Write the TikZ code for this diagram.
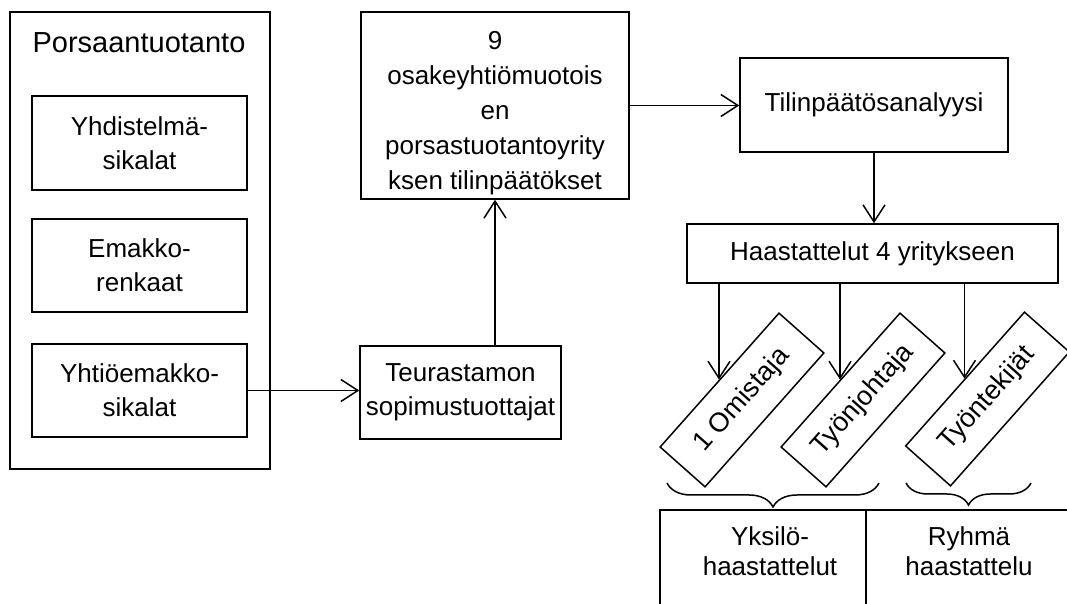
\documentclass[tikz,border=0pt]{standalone}
\usepackage{fontspec}
\setmainfont{Liberation Sans}
\usetikzlibrary{arrows.meta,decorations.pathreplacing}
\begin{document}
\begin{tikzpicture}[x=1pt,y=1pt,
  box/.style={draw, line width=1.5pt, inner sep=0pt, align=center,
    font=\fontsize{26}{34}\selectfont},
  arr/.style={-{Straight Barb[length=17pt,width=22pt]}, line width=1.5pt},
  br/.style={decorate, line width=1.5pt, decoration={brace, mirror, amplitude=#1}},
  lbl/.style={font=\fontsize{26}{30}\selectfont, align=center, anchor=north}]
\useasboundingbox (0,0) rectangle (1067,604);
\clip (0,0) rectangle (1067,604);
% left group
\node[box, minimum width=260pt, minimum height=457pt] (outer) at (140,363.5) {};
\node[font=\fontsize{29}{34}\selectfont, inner sep=0pt] (title) at (139,561) {Porsaantuotanto};
\node[box, minimum width=215pt, minimum height=94pt] (b1) at (139.5,461) {Yhdistelmä-\\sikalat};
\node[box, minimum width=215pt, minimum height=93pt] (b2) at (139.5,338.5) {Emakko-\\renkaat};
\node[box, minimum width=215pt, minimum height=93pt] (b3) at (139.5,213.5) {Yhtiöemakko-\\sikalat};
% middle
\node[box, minimum width=201pt, minimum height=93pt] (teur) at (460.5,211.5) {Teurastamon\\sopimustuottajat};
\node[box, minimum width=268pt, minimum height=187pt,
  label={[font=\fontsize{26}{35}\selectfont, align=center, yshift=-8pt]center:{9\\osakeyhtiömuotois\\en\\porsastuotantoyrity\\ksen tilinpäätökset}}] (box9) at (495,498.5) {};
% right
\node[box, minimum width=268pt, minimum height=94pt] (tili) at (874,499) {Tilinpäätösanalyysi};
\node[box, minimum width=371pt, minimum height=59pt] (haas) at (872.5,350.5) {Haastattelut 4 yritykseen};
\node[box, rotate=48.4, minimum width=179pt, minimum height=60pt, font=\fontsize{27}{30}\selectfont] (o1) at (742,204) {1 Omistaja};
\node[box, rotate=48.4, minimum width=179pt, minimum height=60pt, font=\fontsize{27}{30}\selectfont] (o2) at (863,204) {Työnjohtaja};
\node[box, rotate=48.4, minimum width=179pt, minimum height=60pt, font=\fontsize{27}{30}\selectfont] (o3) at (987.5,205) {Työntekijät};
% bottom boxes
\node[box, minimum width=206pt, minimum height=140pt,
  label={[lbl, yshift=-14pt, xshift=7pt]north:{Yksilö-\\haastattelut}}] (yks) at (763,24) {};
\node[box, minimum width=206pt, minimum height=140pt,
  label={[lbl, yshift=-14pt]north:{Ryhmä\\haastattelu}}] (ryh) at (969,24) {};
% braces
\coordinate (br1a) at (667,121);
\coordinate (br1b) at (879,121);
\coordinate (br2a) at (906,121);
\coordinate (br2b) at (1031,121);
\draw[br=24pt] (br1a) -- (br1b);
\draw[br=22pt] (br2a) -- (br2b);
% connectors
\draw[arr] (b3.east) -- (b3.east -| teur.west);
\draw[arr] (box9.south |- teur.north) -- (box9.south);
\draw[arr] (box9.east) -- (box9.east -| tili.west);
\draw[arr] (tili.south) -- (tili.south |- haas.north);
\draw[arr] (o1.north |- haas.south) -- (o1.north);
\draw[arr] (o2.north |- haas.south) -- (o2.north);
\draw[arr] (o3.north |- haas.south) -- (o3.north);
\end{tikzpicture}
\end{document}
